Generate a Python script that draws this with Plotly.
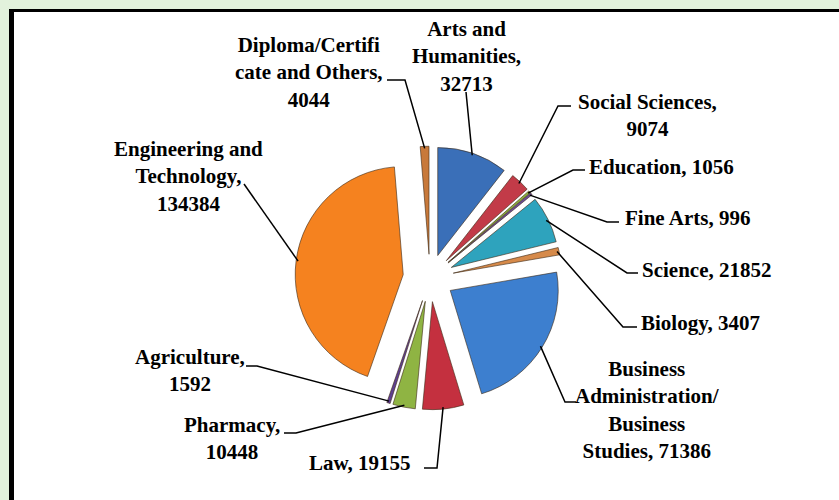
import math
import plotly.graph_objects as go

# ---- data ----
categories = ["Arts and Humanities", "Social Sciences", "Education", "Fine Arts",
              "Science", "Biology", "Business Administration/ Business Studies",
              "Law", "Pharmacy", "Agriculture", "Engineering and Technology",
              "Diploma/Certificate and Others"]
values = [32713, 9074, 1056, 996, 21852, 3407, 71386, 19155, 10448, 1592, 134384, 4044]
label_texts = ["Arts and<br>Humanities,<br>32713", "Social Sciences,<br>9074",
               "Education, 1056", "Fine Arts, 996", "Science, 21852", "Biology, 3407",
               "Business<br>Administration/<br>Business<br>Studies, 71386",
               "Law, 19155", "Pharmacy,<br>10448", "Agriculture,<br>1592",
               "Engineering and<br>Technology,<br>134384",
               "Diploma/Certifi<br>cate and Others,<br>4044"]
colors = ["#3a6fb8", "#c23b48", "#8db13e", "#6b4c9a", "#2ea3bd", "#d68a4a",
          "#3d7fcf", "#c4303f", "#8fb443", "#5e3f8f", "#f5821f", "#c8793a"]
pulls = [0.22, 0.22, 0.22, 0.22, 0.22, 0.22, 0.22, 0.22, 0.22, 0.22, 0.25, 0.22]

# ---- layout (pixels) ----
W, H = 839, 500
CX, CY = 430, 278          # pie centre
HALF = 135                 # half-size of pie domain
maxpull = max(pulls)
R = HALF / (1 + maxpull)

label_pos = [(466, 57), (647, 116), (661, 167), (687, 218), (706, 270), (700, 323),
             (647, 410), (360, 463), (232, 438), (190, 370), (188, 176), (309, 72)]
elbows = [((466, 92), (466, 92)), ((558, 106), (571, 106)), ((573, 170), (585, 170)),
          ((607, 222), (619, 222)), ((627, 273), (638, 273)), ((623, 327), (637, 327)),
          ((565, 402), (576, 402)), ((437, 468), (424, 468)), ((296, 433), (284, 433)),
          ((257, 366), (246, 366)), ((244, 184), (244, 184)), ((405, 80), (387, 80))]


def px(x):
    return x / W


def py(y):
    return 1 - y / H


fig = go.Figure()
fig.add_trace(go.Pie(
    labels=categories, values=values, sort=False, direction="clockwise", rotation=0,
    pull=pulls, textinfo="none", hoverinfo="label+value", showlegend=False,
    marker=dict(colors=colors, line=dict(color="rgba(60,40,20,0.6)", width=1)),
    domain=dict(x=[px(CX - HALF), px(CX + HALF)], y=[py(CY + HALF), py(CY - HALF)]),
))

shapes = [
    dict(type="rect", xref="paper", yref="paper", x0=px(9), x1=px(850), y0=py(510), y1=py(9),
         fillcolor="black", line=dict(width=0), layer="below"),
    dict(type="rect", xref="paper", yref="paper", x0=px(14), x1=px(850), y0=py(510), y1=py(12),
         fillcolor="white", line=dict(width=0), layer="below"),
]

total = sum(values)
cum = 0
annotations = []
for i, v in enumerate(values):
    mid = (cum + v / 2) / total * 2 * math.pi
    cum += v
    rr = R * (1 + pulls[i]) - 2
    sx = CX + rr * math.sin(mid)
    sy = CY - rr * math.cos(mid)
    (ex, ey), (fx, fy) = elbows[i]
    path = f"M {px(sx)},{py(sy)} L {px(ex)},{py(ey)} L {px(fx)},{py(fy)}"
    shapes.append(dict(type="path", xref="paper", yref="paper", path=path,
                       line=dict(color="black", width=1.5)))
    lx, ly = label_pos[i]
    annotations.append(dict(x=px(lx), y=py(ly), xref="paper", yref="paper",
                            text=label_texts[i], showarrow=False, align="center",
                            xanchor="center", yanchor="middle",
                            font=dict(family="Liberation Serif", size=21, color="black",
                                      weight="bold")))

fig.update_layout(
    width=W, height=H, margin=dict(l=0, r=0, t=0, b=0),
    paper_bgcolor="#e2f2dc", plot_bgcolor="white",
    shapes=shapes, annotations=annotations,
)

fig.write_html("out.html", config={"displayModeBar": False},
               post_script="document.body.style.margin='0';document.body.style.overflow='hidden';")
